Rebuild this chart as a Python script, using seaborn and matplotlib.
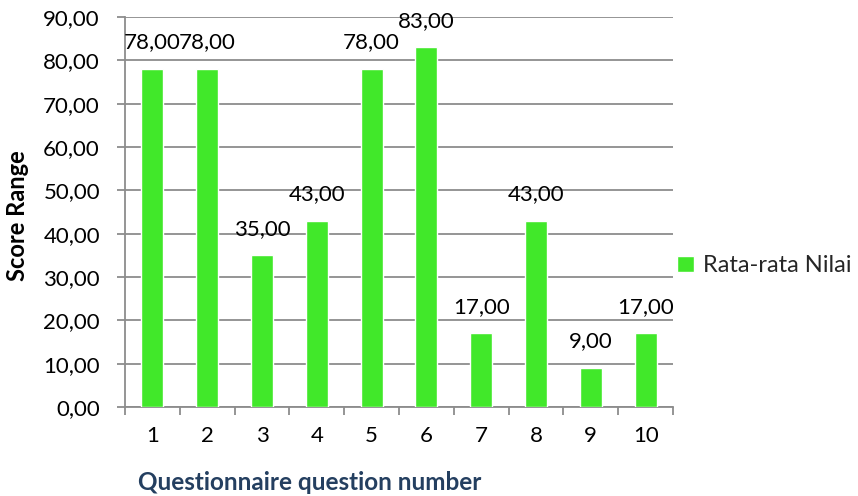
import matplotlib
matplotlib.use("Agg")
import matplotlib.pyplot as plt
import seaborn as sns
import pandas as pd
from matplotlib.ticker import MultipleLocator, FuncFormatter
from matplotlib.patches import Patch

# Average score per questionnaire item
questions = ["1", "2", "3", "4", "5", "6", "7", "8", "9", "10"]
scores = [78, 78, 35, 43, 78, 83, 17, 43, 9, 17]
series_name = "Rata-rata Nilai"

bar_color = "#41E82A"
grid_color = "#8C8C8C"

sns.set_theme(style="white")
plt.rcParams["font.family"] = ["Lato", "DejaVu Sans"]

df = pd.DataFrame({"question": questions, "score": scores})

fig = plt.figure(figsize=(8.58, 4.96), dpi=100)
ax = fig.add_axes([125 / 858, 1 - 407 / 496, 548 / 858, 390 / 496])

sns.barplot(data=df, x="question", y="score", color=bar_color, width=0.4,
            saturation=1, ax=ax, zorder=3)

ax.set_ylim(0, 90)
ax.set_xlim(-0.5, len(questions) - 0.5)
ax.yaxis.set_major_locator(MultipleLocator(10))
ax.yaxis.set_major_formatter(FuncFormatter(lambda v, p: f"{v:.2f}".replace(".", ",")))
ax.grid(axis="y", color=grid_color, linewidth=1.3, zorder=0)
ax.set_axisbelow(True)

for side in ["top", "right"]:
    ax.spines[side].set_visible(False)
for side in ["left", "bottom"]:
    ax.spines[side].set_color(grid_color)
    ax.spines[side].set_linewidth(1.3)

ax.tick_params(axis="y", which="major", length=6, width=1.3, color=grid_color,
               direction="out", left=True, pad=12, labelsize=16, labelcolor="black")
# category ticks: labels at centres, marks between categories
ax.tick_params(axis="x", which="major", length=0, pad=14, labelsize=16, labelcolor="black")
ax.set_xticks([i - 0.5 for i in range(len(questions) + 1)], minor=True)
ax.tick_params(axis="x", which="minor", length=6, width=1.3, color=grid_color,
               direction="out", bottom=True)

for i, v in enumerate(scores):
    ax.annotate(f"{v:.2f}".replace(".", ","), (i, v), xytext=(0, 12),
                textcoords="offset points", ha="center", va="bottom",
                fontsize=16, color="black")

ax.set_ylabel("Score Range", fontsize=17, fontweight="bold", color="black",
              va="center")
ax.yaxis.set_label_coords((18 - 125) / 548, 0.49)
ax.set_xlabel("Questionnaire question number", fontsize=17.5, fontweight="bold",
              color="#243F60", va="center")
ax.xaxis.set_label_coords((310 - 125) / 548, (407 - 482) / 390)

fig.legend(handles=[Patch(facecolor=bar_color, label=series_name)],
           loc="center left", bbox_to_anchor=(668 / 858, 1 - 266 / 496),
           frameon=False, fontsize=17, handlelength=0.7, handleheight=0.7,
           handletextpad=0.4, borderaxespad=0)

fig.savefig("out.png", dpi=100)
